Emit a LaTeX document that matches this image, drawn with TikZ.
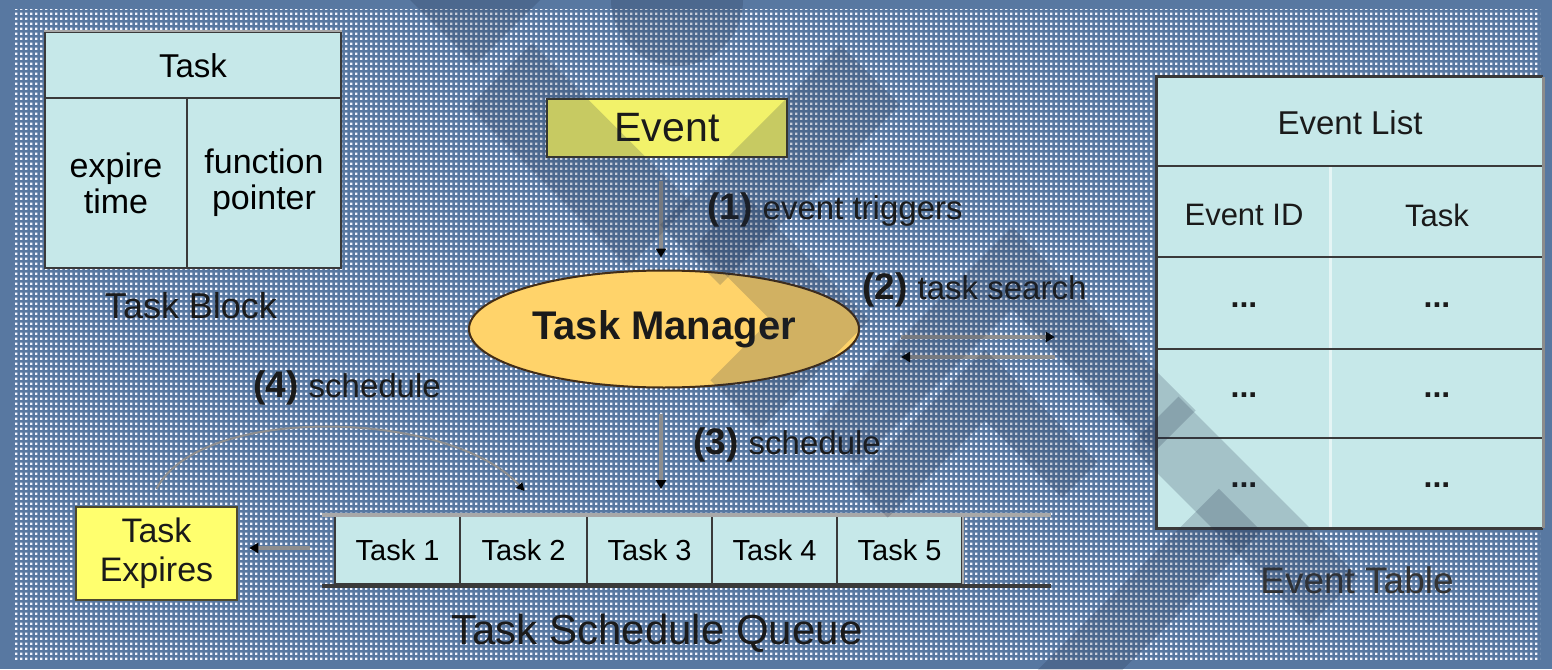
\documentclass[tikz,border=0pt]{standalone}
\usepackage{fontspec}
\setmainfont{Liberation Sans}
\usetikzlibrary{shapes.geometric,arrows.meta,patterns.meta}

\definecolor{bgblue}{HTML}{5878A1}
\definecolor{dotwhite}{HTML}{F4F6FF}
\definecolor{cellcyan}{HTML}{C6E8E9}
\definecolor{evyellow}{HTML}{F2F26A}
\definecolor{exyellow}{HTML}{FFFF6E}
\definecolor{mgrorange}{HTML}{FFD36A}
\definecolor{edgedark}{HTML}{3A3A3A}
\definecolor{edgelight}{HTML}{A8A8A8}
\definecolor{linkgray}{HTML}{8E8E8E}
\definecolor{shade}{HTML}{1C2A44}
\definecolor{inktext}{HTML}{1A1A1A}

% speckled backdrop: one small square per 5pt tile
\tikzdeclarepattern{
  name=bgdots,
  type=uncolored,
  bounding box={(0pt,0pt) and (5pt,5pt)},
  tile size={(5pt,5pt)},
  code={
    \fill (0pt,0pt) rectangle (2.9pt,2.9pt);
  }
}

\newcommand\fs[2]{\fontsize{#1pt}{#2pt}\selectfont}

\tikzset{
  cellbox/.style={fill=cellcyan, draw=edgedark, line width=2pt, inner sep=0pt, align=center},
  plain/.style={inner sep=0pt, text=inktext, align=center},
  lbl/.style={inner sep=0pt, text=inktext, anchor=west},
  conn/.style={draw=linkgray, line width=4pt, -{Triangle[length=9pt,width=10pt,color=black]}},
  arcconn/.style={draw=linkgray, line width=2pt, -{Triangle[length=8pt,width=8pt,color=black]}},
  wm/.style={fill=shade, fill opacity=0.2, draw=none},
  wml/.style={draw=shade, draw opacity=0.2, line cap=butt, line join=miter},
}

\begin{document}
\begin{tikzpicture}[x=1pt,y=-1pt]
\useasboundingbox (0,0) rectangle (1552,669);

% backdrop
\fill[bgblue] (0,0) rectangle (1552,669);
\fill[pattern=bgdots, pattern color=dotwhite] (13,10) rectangle (1540,660);

% ---------- Task Block ----------
\node[cellbox, minimum width=296pt, minimum height=67pt, font=\fs{33}{35}] (tbhead) at (193,66) {Task};
\node[cellbox, minimum width=142pt, minimum height=170pt, font=\fs{34}{36}] (tbexp) at (116,183) {expire\\time};
\node[cellbox, minimum width=154pt, minimum height=170pt, font=\fs{34}{36}] (tbfun) at (264,183) {function\\pointer};
\draw[edgelight, line width=2pt] (tbhead.north west) -- (tbhead.north east);
\node[plain, font=\fs{36}{40}] (tbcap) at (191,306) {Task Block};

% ---------- Event ----------
\node[draw=black!75!olive, line width=2.5pt, fill=evyellow, minimum width=240pt, minimum height=58pt,
      inner sep=0pt, text=inktext, font=\fs{41}{45}] (ev) at (667,128) {Event};

% ---------- Task Manager ----------
\node[ellipse, draw=black!65!brown, line width=2pt, fill=mgrorange, minimum width=390pt,
      minimum height=117pt, inner sep=0pt, text=inktext, font=\fs{40}{44}\bfseries] (tm) at (664,329) {Task Manager};

% ---------- Event Table ----------
\node[fill=cellcyan, minimum width=386pt, minimum height=451pt, inner sep=0pt] (et) at (1350,302.5) {};
\draw[white!55!cellcyan, line width=3pt] ([shift={(174,89)}]et.north west) -- ([shift={(174,0)}]et.south west);
\foreach \dy in {89,180,272,361}
  \draw[edgedark, line width=2pt] ([shift={(0,\dy)}]et.north west) -- ([shift={(0,\dy)}]et.north east);
\draw[edgedark, line width=3pt] (et.north east) -- (et.north west) -- (et.south west) -- (et.south east);
\draw[black!45, line width=3pt] (et.north east) -- (et.south east);
\node[plain, font=\fs{33}{37}] (etlist) at (1350,123) {Event List};
\node[plain, font=\fs{31}{35}] (etid) at (1244,215) {Event ID};
\node[plain, font=\fs{31}{35}] (ettask) at (1437,215) {Task};
\node[plain, font=\fs{32}{36}\bfseries] (r1a) at (1244,305) {...};
\node[plain, font=\fs{32}{36}\bfseries] (r1b) at (1437,305) {...};
\node[plain, font=\fs{32}{36}\bfseries] (r2a) at (1244,395) {...};
\node[plain, font=\fs{32}{36}\bfseries] (r2b) at (1437,395) {...};
\node[plain, font=\fs{32}{36}\bfseries] (r3a) at (1244,485) {...};
\node[plain, font=\fs{32}{36}\bfseries] (r3b) at (1437,485) {...};
\node[plain, text=black!80, font=\fs{37}{41}] (etcap) at (1357,580) {Event Table};

% ---------- Task Schedule Queue ----------
\node[cellbox, minimum width=125pt, minimum height=68pt, font=\fs{29}{32}] (t1) at (397.5,550) {Task 1};
\node[cellbox, minimum width=127pt, minimum height=68pt, font=\fs{29}{32}] (t2) at (523.5,550) {Task 2};
\node[cellbox, minimum width=125pt, minimum height=68pt, font=\fs{29}{32}] (t3) at (649.5,550) {Task 3};
\node[cellbox, minimum width=125pt, minimum height=68pt, font=\fs{29}{32}] (t4) at (774.5,550) {Task 4};
\node[cellbox, minimum width=125pt, minimum height=68pt, font=\fs{29}{32}] (t5) at (899.5,550) {Task 5};
\draw[edgelight, line width=2.5pt] (t5.north east) -- (t5.south east);
\draw[edgelight, line width=4pt] ([shift={(-12,0)}]t1.north west) -- ([shift={(88,0)}]t5.north east);
\draw[edgedark, line width=4pt] ([shift={(-12,1)}]t1.south west) -- ([shift={(88,1)}]t5.south east);
\node[plain, font=\fs{42}{46}] (tsq) at (657,633) {Task Schedule Queue};

% ---------- Task Expires ----------
\node[draw=black!60!olive, line width=2.5pt, fill=exyellow, minimum width=161pt, minimum height=93pt,
      inner sep=0pt, align=center, text=inktext, font=\fs{34}{39}] (te) at (156.5,553.5) {Task\\Expires};

% ---------- connectors ----------
\draw[conn] ([shift={(-6,23)}]ev.south) -- ([shift={(-3,-12)}]tm.north);
\draw[conn] ([shift={(41,8)}]tm.east) -- ([shift={(-102,34.5)}]et.west);
\draw[conn] ([shift={(-102,54.5)}]et.west) -- ([shift={(41,28)}]tm.east);
\draw[conn] ([shift={(-3,25.5)}]tm.south) -- ([shift={(11.5,-26)}]t3.north);
\draw[conn] ([shift={(-24,-2)}]t1.west) -- ([shift={(11,-5.5)}]te.east);
\draw[arcconn] ([shift={(0,-17)}]te.north) .. controls +(44,-85) and +(-75,-82) .. ([shift={(1,-24)}]t2.north);

% ---------- step labels ----------
\node[lbl] (s1) at (707,210) {\fs{37}{40}\bfseries(1) \fs{33}{36}\mdseries event triggers};
\node[lbl] (s2) at (862,290) {\fs{37}{40}\bfseries(2) \fs{33}{36}\mdseries task search};
\node[lbl] (s3) at (693,445) {\fs{37}{40}\bfseries(3) \fs{33}{36}\mdseries schedule};
\node[lbl] (s4) at (253,388) {\fs{37}{40}\bfseries(4) \fs{33}{36}\mdseries schedule};

% ---------- translucent backdrop motif ----------
\begin{scope}
\clip (0,0) rectangle (1552,669);
\fill[wm] (410,0) -- (540,0) -- (475,65) -- cycle;
\fill[wm] (677,0) circle[radius=66];
\draw[wml, line width=90pt] (500,75) -- (660,235);
\draw[wml, line width=85pt] (690,255) -- (870,75);
\draw[wml, line width=70pt] (720,220) -- (820,320) -- (735,405);
\draw[wml, line width=58pt] (835,445) -- (1012,268) -- (1175,431);
\draw[wml, line width=50pt] (870,500) -- (985,385) -- (1080,480);
\draw[wml, line width=69pt] (1154,421) -- (1334,601);
\draw[wml, line width=60pt] (1050,700) -- (1240,510);
\end{scope}
\end{tikzpicture}
\end{document}
